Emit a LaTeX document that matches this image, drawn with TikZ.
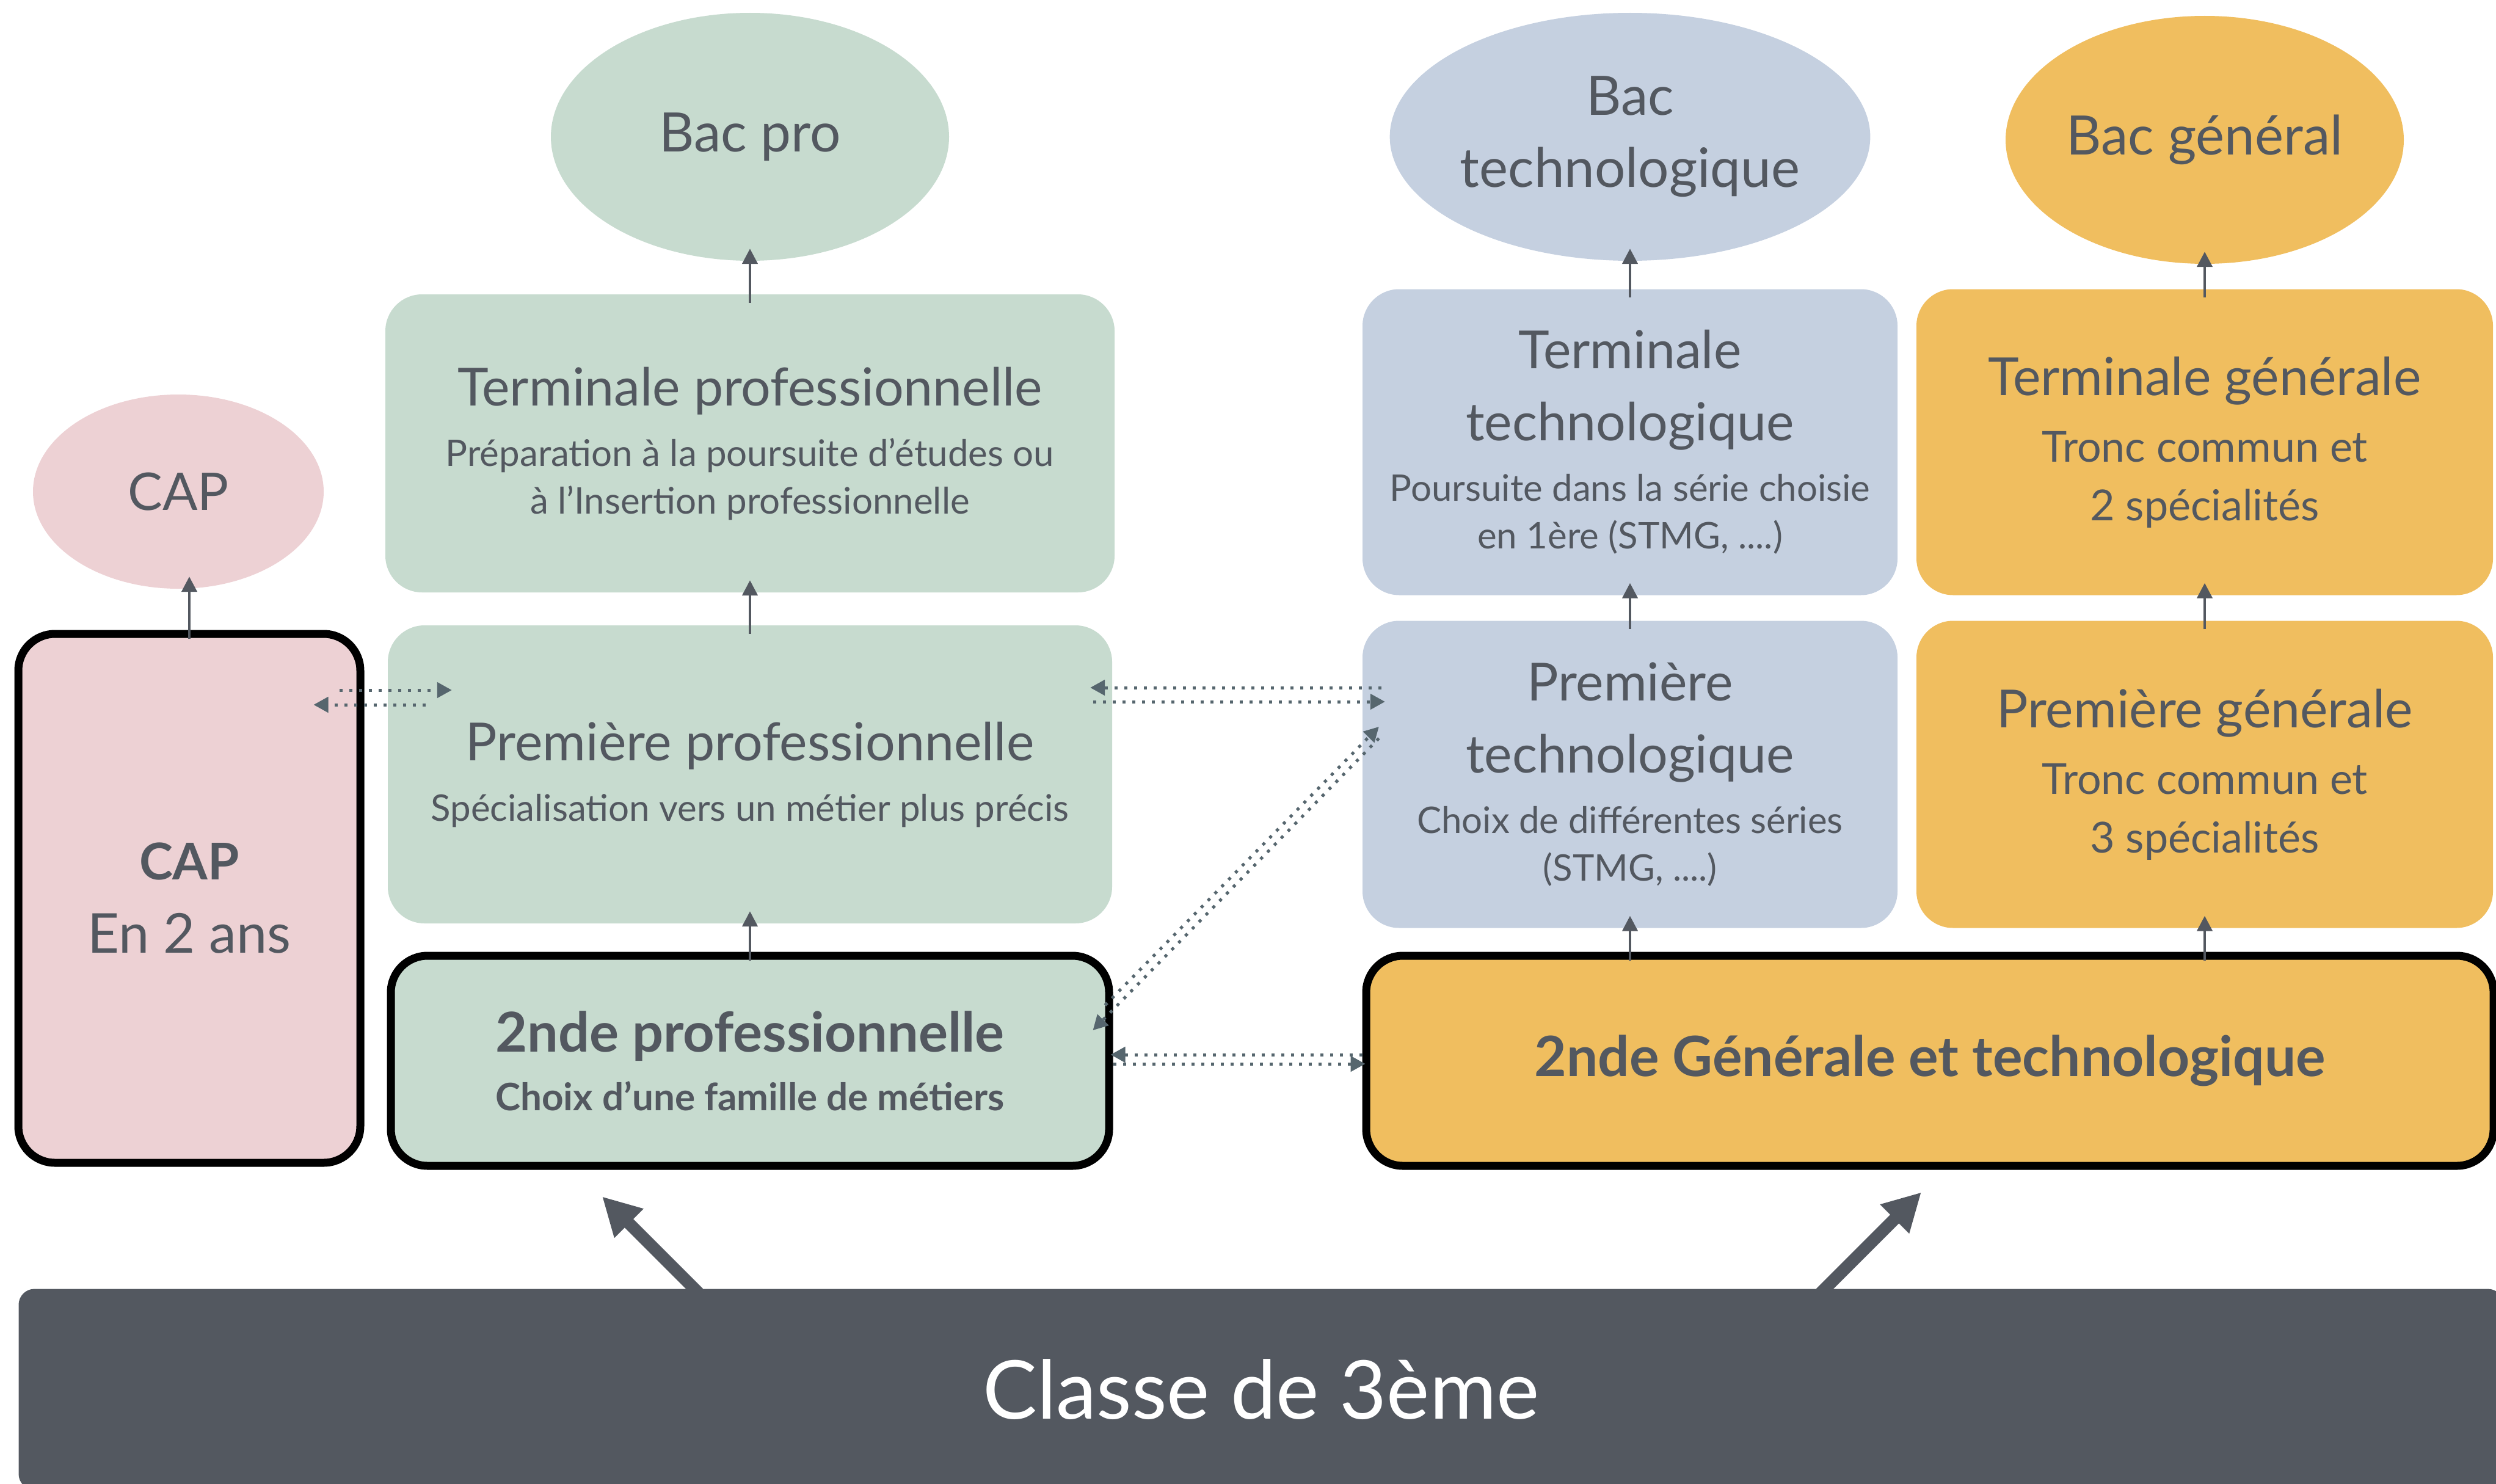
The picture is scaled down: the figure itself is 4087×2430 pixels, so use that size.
\documentclass[tikz,border=0pt]{standalone}
\usepackage{fontspec}
\setmainfont{Lato}
\usepackage{xcolor}
\usepackage{tikz}
\usetikzlibrary{shapes.geometric,arrows.meta}

\definecolor{vert}{RGB}{199,219,207}
\definecolor{rose}{RGB}{237,209,212}
\definecolor{bleu}{RGB}{197,208,224}
\definecolor{jaune}{RGB}{240,190,95}
\definecolor{ardoise}{RGB}{83,88,96}
\definecolor{pointille}{RGB}{86,102,110}

\newcommand{\grand}{\fontsize{86}{118}\selectfont}
\newcommand{\petit}{\fontsize{60}{78}\selectfont}
\newcommand{\moyen}{\fontsize{70}{96}\selectfont}

\begin{document}
\begin{tikzpicture}[x=1pt, y=-1pt,
    case/.style={rectangle, rounded corners=60pt, text=ardoise, align=center, inner sep=0pt},
    cadre/.style={case, draw=black, line width=13pt},
    bac/.style={ellipse, text=ardoise, align=center, inner sep=0pt, font=\fontsize{89}{118}\selectfont},
    monte/.style={draw=ardoise, line width=4.5pt, -{Triangle[length=25pt,width=25pt]}, shorten <=-14pt, shorten >=-20pt},
    passe/.style={draw=pointille, line width=5pt, dash pattern=on 5pt off 11pt, -{Triangle[length=24pt,width=25pt]}},
    grosse/.style={draw=ardoise, line width=20pt, -{Triangle[length=62pt,width=63pt]}, shorten <=-10pt}]
    \useasboundingbox (0,0) rectangle (4087,2430);

    % voie CAP
    \node[bac, fill=rose, minimum width=476pt, minimum height=318pt, font=\fontsize{85}{100}\selectfont] (capell) at (292,805) {CAP};
    \node[cadre, fill=rose, minimum width=560pt, minimum height=866pt, font=\fontsize{90}{120}\selectfont] (capbox) at (310,1471)
        {{\bfseries\fontsize{83}{120}\selectfont CAP}\\En 2 ans};

    % voie pro
    \node[bac, fill=vert, minimum width=652pt, minimum height=406pt] (bacpro) at (1228,224) {Bac pro};
    \node[case, fill=vert, minimum width=1194pt, minimum height=488pt, font=\petit] (tpro) at (1228,726)
        {{\grand Terminale professionnelle}\\[21pt]Préparation à la poursuite d’études ou\\à l’Insertion professionnelle};
    \node[case, fill=vert, minimum width=1186pt, minimum height=488pt, font=\petit] (ppro) at (1228,1268)
        {{\grand Première professionnelle}\\[21pt]Spécialisation vers un métier plus précis};
    \node[cadre, fill=vert, minimum width=1176pt, minimum height=344pt, font=\bfseries\fontsize{62}{96}\selectfont] (spro) at (1228,1737)
        {{\fontsize{90}{96}\selectfont 2nde professionnelle}\\Choix d’une famille de métiers};

    % voie techno
    \node[bac, fill=bleu, minimum width=762pt, minimum height=406pt] (bactech) at (2669,224) {Bac\\technologique};
    \node[case, fill=bleu, minimum width=876pt, minimum height=501pt, font=\petit] (ttech) at (2669,724)
        {{\grand Terminale}\\[40pt]{\grand technologique}\\[21pt]Poursuite dans la série choisie\\en 1ère (STMG, ....)};
    \node[case, fill=bleu, minimum width=876pt, minimum height=503pt, font=\petit] (ptech) at (2669,1268)
        {{\grand Première}\\[40pt]{\grand technologique}\\[21pt]Choix de différentes séries\\(STMG, ....)};

    % voie generale
    \node[bac, fill=jaune, minimum width=652pt, minimum height=406pt] (bacgen) at (3610,229) {Bac général};
    \node[case, fill=jaune, minimum width=944pt, minimum height=501pt, font=\moyen] (tgen) at (3610,724)
        {{\grand Terminale générale}\\[13pt]Tronc commun et\\2 spécialités};
    \node[case, fill=jaune, minimum width=944pt, minimum height=503pt, font=\moyen] (pgen) at (3610,1268)
        {{\grand Première générale}\\[13pt]Tronc commun et\\3 spécialités};
    \node[cadre, fill=jaune, minimum width=1846pt, minimum height=344pt, font=\bfseries\fontsize{91}{100}\selectfont] (sgt) at (3160,1737)
        {2nde Générale et technologique};

    \node[case, rounded corners=26pt, fill=ardoise, text=white, minimum width=4069pt, minimum height=329pt, font=\fontsize{133}{150}\selectfont] (terme) at (2065,2275)
        {Classe de 3ème};

    % montees
    \draw[monte] (capbox.north) -- (capbox.north |- capell.south);
    \draw[monte] (tpro.north) -- (bacpro.south);
    \draw[monte] (ppro.north) -- (tpro.south);
    \draw[monte] (spro.north) -- (ppro.south);
    \draw[monte] (ttech.north) -- (bactech.south);
    \draw[monte] (ptech.north) -- (ttech.south);
    \draw[monte] (sgt.north -| ptech.south) -- (ptech.south);
    \draw[monte] (tgen.north) -- (bacgen.south);
    \draw[monte] (pgen.north) -- (tgen.south);
    \draw[monte] (sgt.north -| pgen.south) -- (pgen.south);

    % passerelles
    \draw[passe, shorten <=-41pt, shorten >=-105pt] (capbox.east |- 0,1130) -- (ppro.west |- 0,1130);
    \draw[passe, shorten <=-62pt, shorten >=-83pt] (ppro.west |- 0,1154) -- (capbox.east |- 0,1154);
    \draw[passe, shorten <=-31pt, shorten >=-36pt] (ptech.west |- 0,1126) -- (ppro.east |- 0,1126);
    \draw[passe, shorten <=-31pt, shorten >=-37pt] (ppro.east |- 0,1149) -- (ptech.west |- 0,1149);
    \draw[passe] ([shift={(-13,-91)}]spro.east) -- ([shift={(27,-78)}]ptech.west);
    \draw[passe] ([shift={(27,-59)}]ptech.west) -- ([shift={(-33,-50)}]spro.east);
    \draw[passe, shorten >=-4pt] (sgt.west |- 0,1727) -- (spro.east |- 0,1727);
    \draw[passe, shorten >=-5pt] (spro.east |- 0,1742) -- (sgt.west |- 0,1742);

    % depuis la 3eme
    \draw[grosse] (terme.north -| 1137,0) -- ++(-151,-151);
    \draw[grosse] (terme.north -| 2988,0) -- ++(158,-158);
\end{tikzpicture}
\end{document}
